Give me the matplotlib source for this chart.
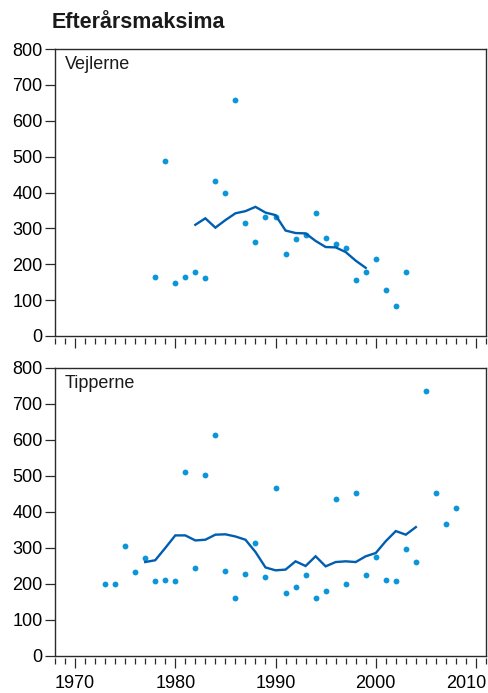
import matplotlib
matplotlib.use("Agg")
import matplotlib.pyplot as plt
from matplotlib.ticker import MultipleLocator
from matplotlib.transforms import ScaledTranslation

plt.rcParams['font.family'] = ['Liberation Sans', 'DejaVu Sans']

# Vejlerne
v_years = list(range(1978, 2004))
v_vals = [164, 487, 148, 164, 178, 163, 433, 400, 659, 314, 261, 333, 333,
          228, 270, 282, 342, 274, 256, 244, 156, 179, 216, 127, 83, 179]
v_line_years = list(range(1982, 2000))
v_line = [310, 328, 302, 323, 342, 348, 360, 344, 337, 294, 287, 286, 265,
          248, 247, 234, 210, 190]

# Tipperne
t_years = list(range(1973, 2009))
t_vals = [199, 199, 305, 234, 271, 207, 210, 208, 512, 245, 502, 614, 236,
          160, 227, 314, 220, 466, 174, 191, 224, 160, 181, 437, 201, 454,
          225, 275, 211, 209, 296, 260, 735, 452, 368, 411]
t_line_years = list(range(1977, 2005))
t_line = [261, 266, 300, 335, 335, 321, 323, 337, 338, 332, 323, 289, 246,
          238, 240, 263, 250, 277, 249, 261, 263, 261, 277, 286, 319, 347,
          337, 358]

title = "Efterårsmaksima"
panel_names = ["Vejlerne", "Tipperne"]
x_major = [1970, 1980, 1990, 2000, 2010]
y_ticks = [0, 100, 200, 300, 400, 500, 600, 700, 800]

dot_color = "#0a96d8"
line_color = "#005eb0"
spine_color = "#2a2a2a"

W, H = 489, 693
fig = plt.figure(figsize=(W / 100, H / 100), dpi=100)

def add_panel(rect, name, yrs, vals, lyrs, lvals, show_xlabels):
    ax = fig.add_axes(rect)
    ax.plot(yrs, vals, linestyle='none', marker='o', markersize=4.2,
            color=dot_color, markeredgewidth=0)
    ax.plot(lyrs, lvals, color=line_color, linewidth=1.7,
            solid_joinstyle='miter')
    ax.set_xlim(1968, 2011)
    ax.set_ylim(0, 800)
    ax.set_yticks(y_ticks)
    ax.tick_params(axis='y', direction='out', length=7, width=0.9,
                   color=spine_color, labelsize=13, pad=2)
    for s in ax.spines.values():
        s.set_color(spine_color)
        s.set_linewidth(1.0)
    # x ticks drawn on a secondary axis slightly below the spine
    ax.set_xticks([])
    sec = ax.secondary_xaxis(-0.008)
    sec.spines['bottom'].set_visible(False)
    sec.set_xticks(x_major)
    sec.xaxis.set_minor_locator(MultipleLocator(1))
    sec.tick_params(axis='x', which='major', direction='out', length=7,
                    width=0.9, color=spine_color, labelsize=13, pad=5)
    sec.tick_params(axis='x', which='minor', direction='out', length=4.2,
                    width=0.9, color=spine_color)
    if not show_xlabels:
        sec.set_xticklabels([])
    else:
        fig.canvas.draw()
        lbls = sec.get_xticklabels()
        last = lbls[-1]
        last.set_transform(last.get_transform() +
                           ScaledTranslation(-10 / 100, 0, fig.dpi_scale_trans))
    ax.text(0.022, 0.975, name, transform=ax.transAxes, ha='left', va='top',
            fontsize=13, color='#1a1a1a')
    return ax

left = 55 / W
width = (486 - 55) / W
add_panel([left, 1 - 336 / H, width, (336 - 49) / H], panel_names[0],
          v_years, v_vals, v_line_years, v_line, False)
add_panel([left, 1 - 656 / H, width, (656 - 368) / H], panel_names[1],
          t_years, t_vals, t_line_years, t_line, True)

fig.text(52 / W, 1 - 23 / H, title, ha='left', va='center', fontsize=15.5,
         fontweight='bold', color='#1a1a1a')

fig.savefig("out.png", dpi=100)
